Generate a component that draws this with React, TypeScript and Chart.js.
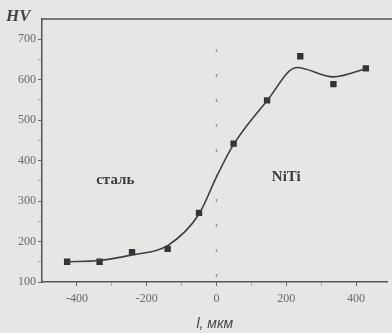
import React, { useEffect, useRef } from "react";
import { Chart, registerables } from "chart.js";

Chart.register(...registerables);

// Measured points (depth l, µm ; hardness HV)
const depthValues = [-428, -335, -242, -140, -50, 49, 145, 240, 335, 428];
const hardnessValues = [150, 150, 174, 182, 271, 442, 549, 658, 589, 628];

// Fitted smooth curve
const curveDepth = [-428, -335, -242, -140, -50, 0, 49, 145, 230, 335, 428];
const curveHardness = [150, 153, 167, 190, 268, 360, 440, 548, 630, 607, 627];

const xTickValues = [-400, -300, -200, -100, 0, 100, 200, 300, 400];
const xLabelled = [-400, -200, 0, 200, 400];
const yTickValues = [100, 150, 200, 250, 300, 350, 400, 450, 500, 550, 600, 650, 700];
const yLabelled = [100, 200, 300, 400, 500, 600, 700];

const boundaryX = 0;
const regionLabels = ["сталь", "NiTi"];
const regionLabelX = [-290, 200];
const regionLabelY = [352, 358];

const BG = "#e6e6e4";

export default function App() {
  const ref = useRef<HTMLCanvasElement | null>(null);

  useEffect(() => {
    document.body.style.margin = "0";
    document.body.style.background = BG;
    const canvas = ref.current!;
    const decor = {
      id: "decor",
      beforeDraw(chart: any) {
        const { ctx } = chart;
        ctx.save();
        ctx.fillStyle = BG;
        ctx.fillRect(0, 0, chart.width, chart.height);
        ctx.restore();
      },
      beforeDatasetsDraw(chart: any) {
        const { ctx, chartArea, scales } = chart;
        const x = scales.x.getPixelForValue(boundaryX);
        ctx.save();
        ctx.strokeStyle = "#9a9a9a";
        ctx.lineWidth = 1.5;
        ctx.setLineDash([3, 22]);
        ctx.beginPath();
        ctx.moveTo(x, chartArea.top + 30);
        ctx.lineTo(x, chartArea.bottom);
        ctx.stroke();
        ctx.setLineDash([]);
        // top border
        ctx.strokeStyle = "#555";
        ctx.lineWidth = 1.5;
        ctx.beginPath();
        ctx.moveTo(chartArea.left, chartArea.top);
        ctx.lineTo(chart.width, chartArea.top);
        ctx.stroke();
        // region labels
        ctx.fillStyle = "#3c3c3c";
        ctx.textAlign = "center";
        ctx.textBaseline = "middle";
        regionLabels.forEach((t, i) => {
          ctx.font = "bold 15px 'Liberation Serif', serif";
          ctx.fillText(t, scales.x.getPixelForValue(regionLabelX[i]), scales.y.getPixelForValue(regionLabelY[i]));
        });
        // HV
        ctx.font = "italic bold 17px 'Liberation Serif', serif";
        ctx.textAlign = "left";
        ctx.textBaseline = "alphabetic";
        ctx.fillStyle = "#444";
        ctx.fillText("HV", 6, 21);
        ctx.restore();
      },
    };

    const chart = new Chart(canvas, {
      type: "scatter",
      data: {
        datasets: [
          {
            data: curveDepth.map((x, i) => ({ x, y: curveHardness[i] })),
            showLine: true,
            borderColor: "#3e3e3e",
            borderWidth: 1.6,
            pointRadius: 0,
            cubicInterpolationMode: "monotone",
          } as any,
          {
            data: depthValues.map((x, i) => ({ x, y: hardnessValues[i] })),
            pointStyle: "rect",
            pointRadius: 4.5,
            backgroundColor: "#333",
            borderColor: "#333",
            borderWidth: 0,
          },
        ],
      },
      plugins: [decor],
      options: {
        animation: false,
        responsive: false,
        layout: { padding: { top: 19, left: 0, right: 0, bottom: 0 } },
        plugins: { legend: { display: false }, tooltip: { enabled: false } },
        scales: {
          x: {
            type: "linear",
            min: -500,
            max: 490,
            afterBuildTicks: (s: any) => {
              s.ticks = xTickValues.map((v) => ({ value: v }));
            },
            afterFit: (s: any) => {
              s.height = 51;
            },
            grid: {
              drawOnChartArea: false,
              drawTicks: true,
              tickLength: 4,
              tickColor: (c: any) => (xLabelled.includes(c.tick?.value) ? "#666" : "#aaa"),
            },
            border: { color: "#555", width: 1.5 },
            ticks: {
              color: "#6a6a6a",
              font: { family: "'Liberation Serif', serif", size: 12 },
              padding: 6,
              callback: (v: any) => (xLabelled.includes(Number(v)) ? String(v) : ""),
            },
            title: {
              display: true,
              text: "l, мкм",
              color: "#444",
              font: { family: "'Liberation Sans', sans-serif", size: 14, style: "italic" },
              padding: { top: 4, bottom: 0 },
            },
          },
          y: {
            type: "linear",
            min: 100,
            max: 750,
            afterBuildTicks: (s: any) => {
              s.ticks = yTickValues.map((v) => ({ value: v }));
            },
            afterFit: (s: any) => {
              s.width = 42;
            },
            grid: {
              drawOnChartArea: false,
              drawTicks: true,
              tickLength: 4,
              tickColor: (c: any) => (yLabelled.includes(c.tick?.value) ? "#666" : "#aaa"),
            },
            border: { color: "#555", width: 1.5 },
            ticks: {
              color: "#6a6a6a",
              font: { family: "'Liberation Serif', serif", size: 12 },
              padding: 2,
              callback: (v: any) => (yLabelled.includes(Number(v)) ? String(v) : ""),
            },
          },
        },
      },
    });
    return () => chart.destroy();
  }, []);

  return <canvas ref={ref} width={392} height={333} style={{ display: "block" }} />;
}
